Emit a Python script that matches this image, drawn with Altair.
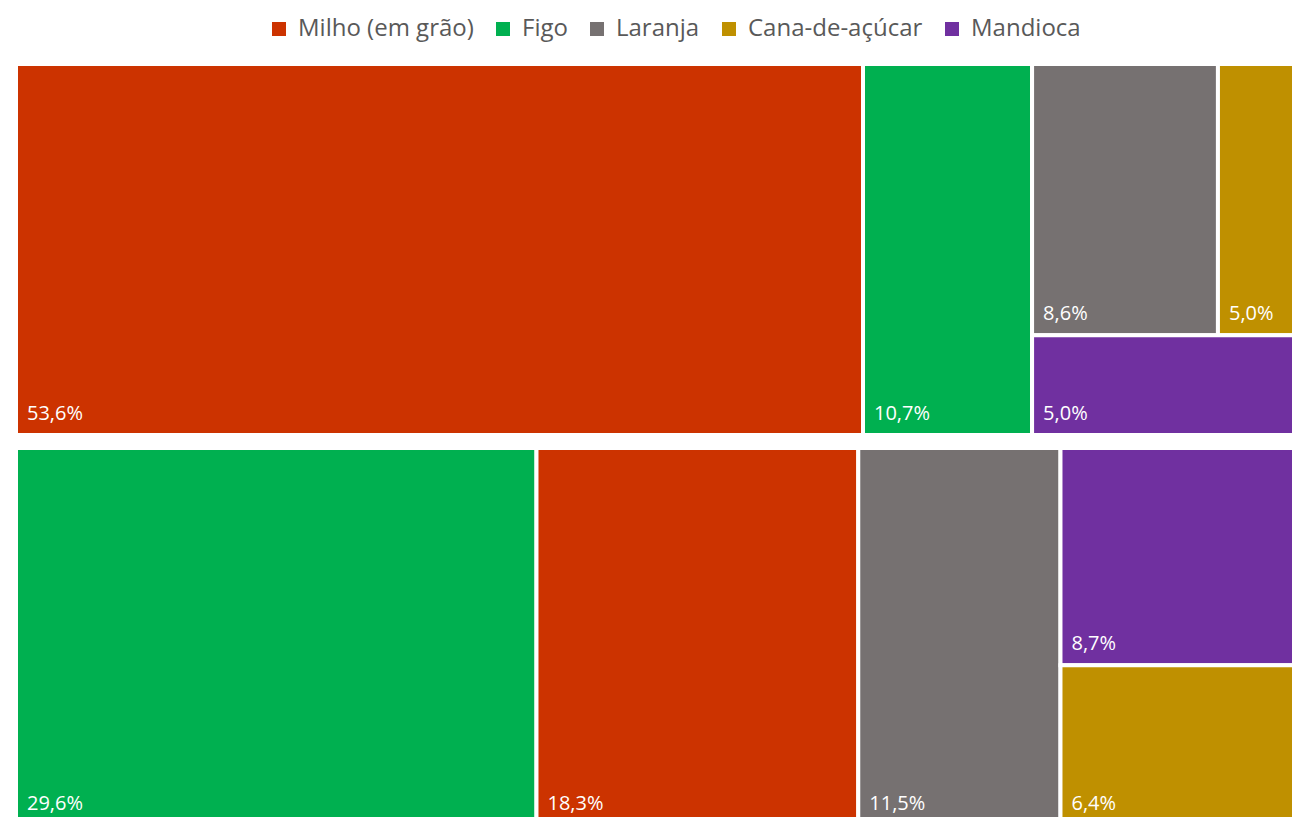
import altair as alt
import pandas as pd

crops = ["Milho (em grão)", "Figo", "Laranja", "Cana-de-açúcar", "Mandioca"]
colors = ["#CC3300", "#00B050", "#767171", "#BF9000", "#7030A0"]

# shares (%) in the two groups, in the order of `crops`
top_values = [53.6, 10.7, 8.6, 5.0, 5.0]
bottom_values = [18.3, 29.6, 11.5, 6.4, 8.7]

# treemap arrangement (columns -> rows -> crop indices), as drawn in the picture
top_layout = [[[0]], [[1]], [[2, 3], [4]]]
bottom_layout = [[[1]], [[0]], [[2]], [[4], [3]]]

# relative heights of the two groups and gap between them (fractions of the full treemap)
group_heights = [0.483, 0.491]
group_gap = 0.017

# the picture shows only part of the treemap (it runs past the right and bottom edges)
visible_x = 1276 / 1310
visible_y = 753 / 768

records = []


def layout(values, cols, y0, h):
    total = sum(values[i] for col in cols for row in col for i in row)
    x = 0.0
    for col in cols:
        csum = sum(values[i] for row in col for i in row)
        w = csum / total
        y = y0
        for row in col:
            rsum = sum(values[i] for i in row)
            rh = h * rsum / csum
            xx = x
            for i in row:
                iw = w * values[i] / rsum
                records.append(dict(
                    crop=crops[i], value=values[i],
                    label=f"{values[i]:.1f}".replace(".", ",") + "%",
                    x0=xx, x1=xx + iw, y0=y, y1=y + rh))
                xx += iw
            y += rh
        x += w


layout(top_values, top_layout, 0.0, group_heights[0])
layout(bottom_values, bottom_layout, group_heights[0] + group_gap, group_heights[1])

df = pd.DataFrame(records)

xscale = alt.Scale(domain=[0, visible_x], nice=False, zero=False)
yscale = alt.Scale(domain=[0, visible_y], nice=False, zero=False, reverse=True)

base = alt.Chart(df)

rects = base.mark_rect(stroke="white", strokeWidth=4, clip=True).encode(
    x=alt.X("x0:Q", scale=xscale, axis=None),
    x2="x1:Q",
    y=alt.Y("y0:Q", scale=yscale, axis=None),
    y2="y1:Q",
    color=alt.Color(
        "crop:N",
        scale=alt.Scale(domain=crops, range=colors),
        legend=alt.Legend(
            title=None, orient="none", legendX=251, legendY=-47,
            direction="horizontal", symbolType="square", symbolSize=196,
            symbolStrokeWidth=0, labelFontSize=24, labelFont="Open Sans",
            labelColor="#595959", columnPadding=17, labelOffset=7, padding=0,
            labelLimit=0,
        ),
    ),
)

texts = base.mark_text(
    align="left", baseline="alphabetic", dx=11, dy=-15,
    color="white", fontSize=20, font="Open Sans",
).encode(
    x=alt.X("x0:Q", scale=xscale, axis=None),
    y=alt.Y("y1:Q", scale=yscale, axis=None),
    text="label:N",
)

chart = (rects + texts).properties(
    width=1276, height=753,
    padding={"left": 8, "top": 56, "right": 0, "bottom": 0},
    autosize=alt.AutoSizeParams(type="none"),
).configure_view(strokeWidth=0)

chart.save("out.html", embed_options={"renderer": "svg", "actions": False})
